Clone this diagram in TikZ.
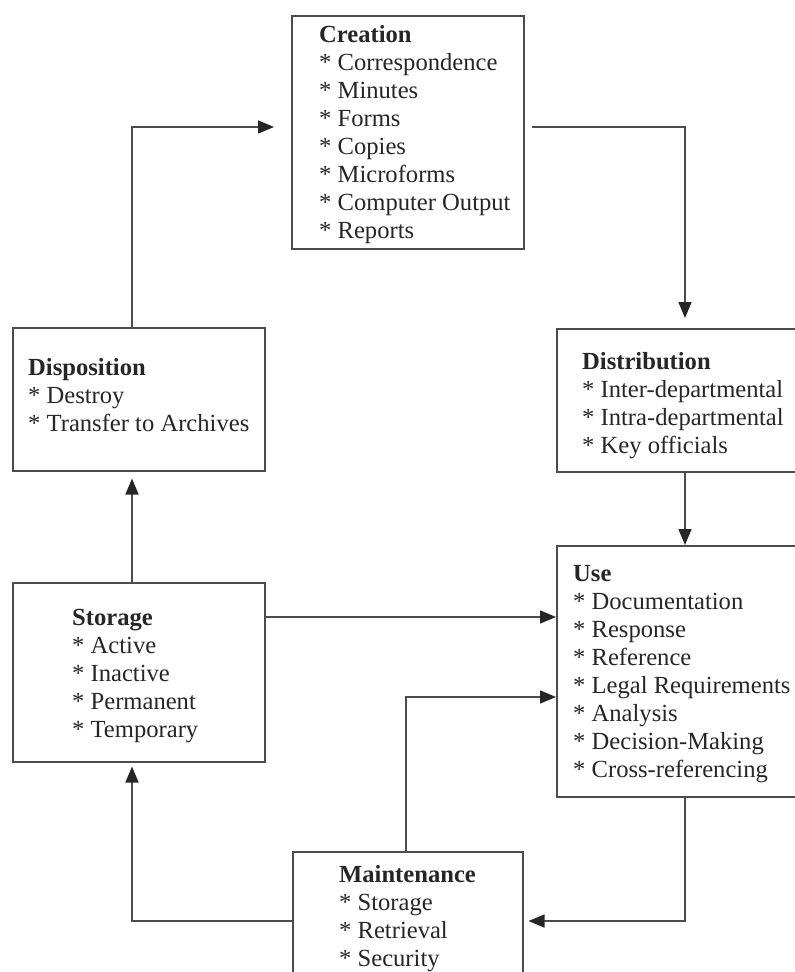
\documentclass[tikz,border=0pt]{standalone}
\usepackage{fontspec}
\setmainfont{Liberation Serif}
\usetikzlibrary{arrows.meta}

\begin{document}
\begin{tikzpicture}[x=1pt, y=-1pt,
    stagebox/.style={draw=black!70, line width=1.5pt, anchor=north west, inner sep=0pt},
    stagetext/.style={anchor=north west, align=left, inner sep=0pt, text=black!85,
      font=\fontsize{24.6}{28}\selectfont},
    flow/.style={draw=black!70, line width=1.5pt,
      -{Triangle[length=16pt, width=13pt, color=black!85]}}]
  \def\leftx{132}
  \def\rightx{685}
  \def\toprow{127}
  \def\botrow{921}

  % Page size
  \useasboundingbox (0,0) rectangle (795,972);

  % Boxes
  \node[stagebox, minimum width=232pt, minimum height=233pt] (creation) at (291,15) {};
  \node[stagebox, minimum width=260pt, minimum height=143pt] (distribution) at (556,328) {};
  \node[stagebox, minimum width=260pt, minimum height=251pt] (use) at (556,545) {};
  \node[stagebox, minimum width=252pt, minimum height=143pt] (disposition) at (12,327) {};
  \node[stagebox, minimum width=252pt, minimum height=179pt] (storage) at (12,582) {};
  \node[stagebox, minimum width=230pt, minimum height=160pt] (maintenance) at (292,851) {};

  % Texts
  \node[stagetext] (creationtext) at (319,25) {\textbf{Creation}\\
    * Correspondence\\ * Minutes\\ * Forms\\ * Copies\\ * Microforms\\
    * Computer Output\\ * Reports};
  \node[stagetext] (distributiontext) at (582,352) {\textbf{Distribution}\\
    * Inter-departmental\\ * Intra-departmental\\ * Key officials};
  \node[stagetext] (usetext) at (573,565) {\textbf{Use}\\
    * Documentation\\ * Response\\ * Reference\\ * Legal Requirements\\
    * Analysis\\ * Decision-Making\\ * Cross-referencing};
  \node[stagetext] (dispositiontext) at (28,358) {\textbf{Disposition}\\
    * Destroy\\ * Transfer to Archives};
  \node[stagetext] (storagetext) at (72,609) {\textbf{Storage}\\
    * Active\\ * Inactive\\ * Permanent\\ * Temporary};
  \node[stagetext] (maintenancetext) at (339,865) {\textbf{Maintenance}\\
    * Storage\\ * Retrieval\\ * Security};

  % Cycle
  \draw[flow, shorten >=17pt] (disposition.north -| \leftx,0) |- (creation.west |- 0,\toprow);
  \draw[flow, shorten <=7pt, shorten >=10pt] (creation.east |- 0,\toprow) -| (distribution.north -| \rightx,0);
  \draw[flow] (distribution.south -| \rightx,0) -- (use.north -| \rightx,0);
  \draw[flow, shorten >=5pt] (use.south -| \rightx,0) |- (maintenance.east |- 0,\botrow);
  \draw[flow, shorten >=4pt] (maintenance.west |- 0,\botrow) -| (storage.south -| \leftx,0);
  \draw[flow, shorten >=7pt] (storage.north -| \leftx,0) -- (disposition.south -| \leftx,0);

  % Into use
  \draw[flow] (storage.east |- 0,617) -- (use.west |- 0,617);
  \draw[flow] (maintenance.north -| 406,0) |- (use.west |- 0,697);
\end{tikzpicture}
\end{document}
